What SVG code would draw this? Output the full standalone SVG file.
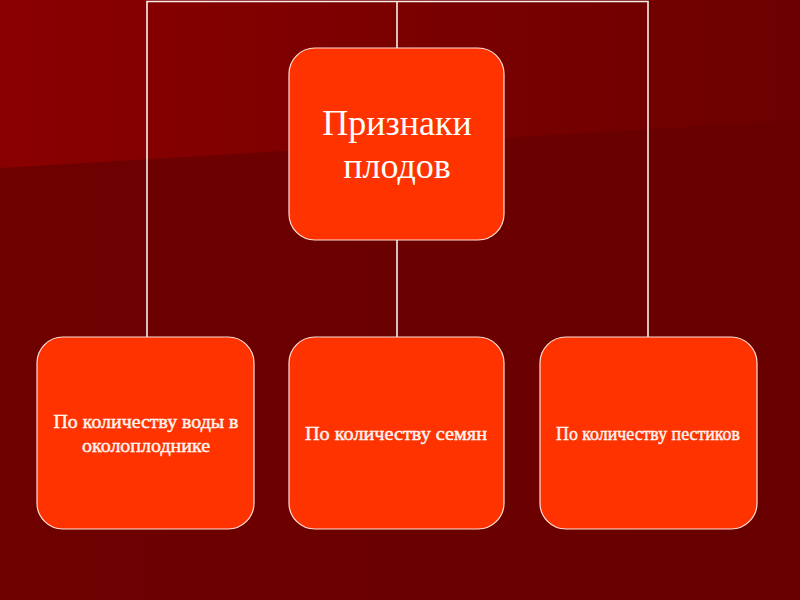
<svg xmlns="http://www.w3.org/2000/svg" width="800" height="600" viewBox="0 0 800 600">
<defs>
<linearGradient id="bgTop" x1="0" y1="0" x2="1" y2="0">
<stop offset="0" stop-color="#8A0000"/>
<stop offset="1" stop-color="#6C0000"/>
</linearGradient>
<linearGradient id="bgBot" x1="0" y1="0" x2="1" y2="0">
<stop offset="0" stop-color="#6E0000"/>
<stop offset="1" stop-color="#680000"/>
</linearGradient>
</defs>
<style>
.box { fill: #FF3300; stroke: #FFE0D8; stroke-width: 1.2; }
.conn { stroke: #F4F0F0; stroke-width: 1.6; fill: none; }
.title { font-family: "Liberation Serif", "Times New Roman", serif; font-size: 36px; fill: #FFFFFF; text-anchor: middle; }
.lbl { font-family: "Liberation Serif", "Times New Roman", serif; font-size: 19px; fill: #FFF4F0; stroke: #FFF4F0; stroke-width: 0.45; text-anchor: middle; }
</style>
<rect x="0" y="0" width="800" height="600" fill="url(#bgBot)"/>
<polygon points="0,0 800,0 800,120 0,168" fill="url(#bgTop)"/>
<g id="connectors">
<polyline class="conn" points="147,338 147,1.5 648,1.5 648,338"/>
<line class="conn" x1="397" y1="1.5" x2="397" y2="48"/>
<line class="conn" x1="397" y1="240" x2="397" y2="337"/>
</g>
<g id="node-main">
<rect class="box" x="289" y="48" width="215" height="192" rx="26" ry="26"/>
<text class="title" x="397" y="135">Признаки</text>
<text class="title" x="397" y="178">плодов</text>
</g>
<g id="node-water">
<rect class="box" x="37" y="337" width="217" height="192" rx="26" ry="26"/>
<text class="lbl" x="146" y="428" textLength="185" lengthAdjust="spacingAndGlyphs">По количеству воды в</text>
<text class="lbl" x="146" y="452" textLength="128" lengthAdjust="spacingAndGlyphs">околоплоднике</text>
</g>
<g id="node-seeds">
<rect class="box" x="289" y="337" width="215" height="192" rx="26" ry="26"/>
<text class="lbl" x="396" y="440" textLength="182" lengthAdjust="spacingAndGlyphs">По количеству семян</text>
</g>
<g id="node-pistils">
<rect class="box" x="540" y="337" width="217" height="192" rx="26" ry="26"/>
<text class="lbl" x="648" y="440" textLength="184" lengthAdjust="spacingAndGlyphs">По количеству пестиков</text>
</g>
</svg>
